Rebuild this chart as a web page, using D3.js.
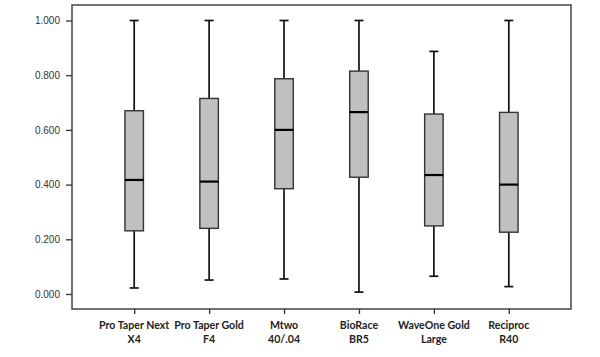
<!DOCTYPE html>
<html><head><meta charset="utf-8">
<script src="https://cdn.jsdelivr.net/npm/d3@7"></script>
<style>body{margin:0;background:#fff}</style>
</head><body>
<svg id="c" width="600" height="357"></svg>
<script>
const categories = [["Pro Taper Next","X4"],["Pro Taper Gold","F4"],["Mtwo","40/.04"],["BioRace","BR5"],["WaveOne Gold","Large"],["Reciproc","R40"]];
const whiskerLow = [0.022,0.051,0.055,0.007,0.065,0.027];
const q1 = [0.231,0.240,0.385,0.427,0.249,0.226];
const median = [0.417,0.411,0.600,0.665,0.435,0.400];
const q3 = [0.670,0.715,0.787,0.815,0.658,0.664];
const whiskerHigh = [1.000,1.000,1.000,1.000,0.887,1.000];
const yTicks = [0,0.2,0.4,0.6,0.8,1.0];

const svg = d3.select("#c");
const L=72,R=571,T=5,B=309;
const names = categories.map(c=>c.join(" "));
const x = d3.scalePoint().domain(names).range([L,R]).padding(0.83);
const y = d3.scaleLinear().domain([0,1]).range([294,20.5]);

svg.append("rect").attr("x",L).attr("y",T).attr("width",R-L).attr("height",B-T)
  .attr("fill","none").attr("stroke","#444").attr("stroke-width",1.5);

const yAxis = svg.append("g").attr("transform",`translate(${L},0)`)
  .call(d3.axisLeft(y).tickValues(yTicks).tickFormat(d3.format(".3f")).tickSize(6).tickPadding(6));
yAxis.select(".domain").remove();
yAxis.selectAll("line").attr("stroke","#333").attr("stroke-width",1.3);
yAxis.selectAll("text").attr("font-family","Liberation Sans, Arial, sans-serif").attr("font-size",10).attr("fill","#333");

const xAxis = svg.append("g").attr("transform",`translate(0,${B})`)
  .call(d3.axisBottom(x).tickSize(5).tickFormat(""));
xAxis.select(".domain").remove();
xAxis.selectAll("line").attr("stroke","#333").attr("stroke-width",1.3);

categories.forEach((c,i)=>{
  const t = svg.append("text").attr("x",x(names[i])).attr("y",329)
    .attr("text-anchor","middle").attr("font-family","Lato, 'Open Sans', sans-serif")
    .attr("font-weight","bold").attr("font-size",10.6).attr("fill","#222");
  t.append("tspan").attr("x",x(names[i])).attr("dy",0).text(c[0]);
  t.append("tspan").attr("x",x(names[i])).attr("dy",14).text(c[1]);
});

const bw=18.5, cw=9;
names.forEach((n,i)=>{
  const cx = x(n);
  const g = svg.append("g");
  g.append("line").attr("x1",cx).attr("x2",cx).attr("y1",y(whiskerHigh[i])).attr("y2",y(q3[i]))
    .attr("stroke","#111").attr("stroke-width",1.7);
  g.append("line").attr("x1",cx).attr("x2",cx).attr("y1",y(q1[i])).attr("y2",y(whiskerLow[i]))
    .attr("stroke","#111").attr("stroke-width",1.7);
  [whiskerHigh[i],whiskerLow[i]].forEach(v=>{
    g.append("line").attr("x1",cx-cw/2).attr("x2",cx+cw/2).attr("y1",y(v)).attr("y2",y(v))
      .attr("stroke","#111").attr("stroke-width",1.7);
  });
  g.append("rect").attr("x",cx-bw/2).attr("y",y(q3[i])).attr("width",bw).attr("height",y(q1[i])-y(q3[i]))
    .attr("fill","#c0c0c0").attr("stroke","#333").attr("stroke-width",1.4);
  g.append("line").attr("x1",cx-bw/2).attr("x2",cx+bw/2).attr("y1",y(median[i])).attr("y2",y(median[i]))
    .attr("stroke","#000").attr("stroke-width",2.2);
});
</script>
</body></html>
